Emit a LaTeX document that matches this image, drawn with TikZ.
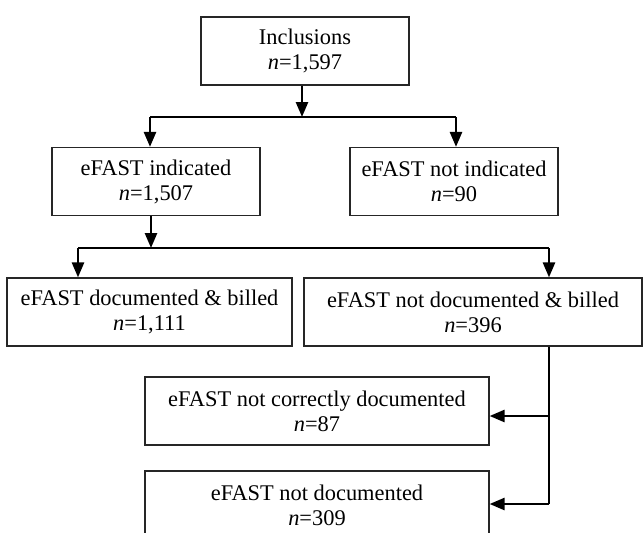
\documentclass[tikz,border=0pt]{standalone}
\usepackage{fontspec}
\setmainfont{Liberation Serif}
\usetikzlibrary{arrows.meta,positioning}

\begin{document}
\begin{tikzpicture}[x=0.5pt,y=-0.5pt,>={Triangle[length=7.5pt,width=6pt]},
    line width=1.3pt,
    box/.style={rectangle,draw=black!85,line width=0.6pt,minimum height=34pt,inner sep=0pt,
      align=center,font=\fontsize{11.2}{12.5}\selectfont}]
  \useasboundingbox (0,0) rectangle (643,532);

  \node[box,minimum width=104pt] (incl) at (305,51) {Inclusions\\\textit{n}=1,597};
  \node[box,minimum width=104pt] (ind) at (156,181.5) {eFAST indicated\\\textit{n}=1,507};
  \node[box,minimum width=104pt] (notind) at (454,181.5) {eFAST not indicated\\\textit{n}=90};
  \node[box,minimum width=142.5pt] (docb) at (149.5,312) {eFAST documented \& billed\\\textit{n}=1,111};
  \node[box,minimum width=169pt] (notdocb) at (473,312) {eFAST not documented \& billed\\\textit{n}=396};
  \node[box,minimum width=172pt] (corr) at (317,411) {eFAST not correctly documented\\\textit{n}=87};
  \node[box,minimum width=172pt] (notdoc) at (317,505) {eFAST not documented\\\textit{n}=309};

  % first split
  \coordinate (s1) at (302,117);
  \coordinate (s1l) at (150,117);
  \coordinate (s1r) at (456,117);
  \draw[->] (incl.south -| s1) -- (s1);
  \draw (s1l) -- (s1r);
  \draw[->] (s1l) -- (s1l |- ind.north);
  \draw[->] (s1r) -- (s1r |- notind.north);

  % second split
  \coordinate (s2) at (151,248);
  \coordinate (s2l) at (78,248);
  \coordinate (s2r) at (549,248);
  \draw[->] (ind.south -| s2) -- (s2);
  \draw (s2l) -- (s2r);
  \draw[->] (s2l) -- (s2l |- docb.north);
  \draw[->] (s2r) -- (s2r |- notdocb.north);

  % not documented
  \coordinate (b1) at (549,416);
  \coordinate (b2) at (549,504);
  \draw (notdocb.south -| b1) -- (b2);
  \draw[->] (b1) -- (b1 -| corr.east);
  \draw[->] (b2) -- (b2 -| notdoc.east);
\end{tikzpicture}
\end{document}
